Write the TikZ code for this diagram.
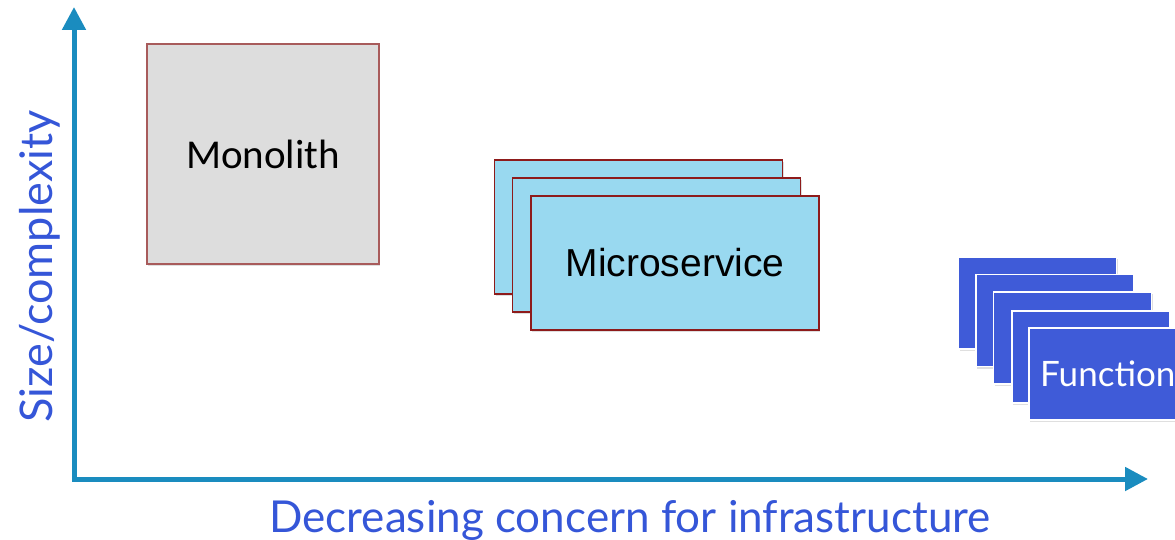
\documentclass[tikz,border=0pt]{standalone}
\usepackage{fontspec}
\setmainfont{Liberation Sans}
\newfontfamily\calfont{Carlito}
\newfontfamily\lightfont{Lato}
\usetikzlibrary{arrows.meta,shadows}
\definecolor{axisblue}{HTML}{1A8CBF}
\definecolor{labelblue}{HTML}{3556D8}
\definecolor{monofill}{HTML}{DDDDDD}
\definecolor{monoedge}{HTML}{A85B5B}
\definecolor{microfill}{HTML}{99D9F0}
\definecolor{microedge}{HTML}{8E1B1B}
\definecolor{funcfill}{HTML}{3F5BD8}
\tikzset{
  boxshadow/.style={drop shadow={opacity=0.25,shadow xshift=1pt,shadow yshift=-2pt}},
  monobox/.style={draw=monoedge,line width=1.3pt,fill=monofill,boxshadow,minimum width=232pt,minimum height=220pt,inner sep=0pt},
  microbox/.style={draw=microedge,line width=1.3pt,fill=microfill,boxshadow,minimum width=288pt,minimum height=134pt,inner sep=0pt},
  funcbox/.style={draw=white,line width=1.5pt,fill=funcfill,boxshadow,minimum width=158pt,minimum height=92pt,inner sep=0pt},
  axis/.style={draw=axisblue,line width=5pt,-{Triangle[width=23pt,length=23pt]}},
  axislabel/.style={text=labelblue,inner sep=0pt}
}
\begin{document}
\begin{tikzpicture}[x=1pt,y=-1pt]
\useasboundingbox (0,0) rectangle (1175,540);
% axes
\coordinate (origin) at (74,479);
\coordinate (ytip) at (74,7);
\coordinate (xtip) at (1148,479);
\draw[axis] (origin) -- (ytip);
\draw[axis] (origin) -- (xtip);
\draw[draw=axisblue,line width=5pt] (74,481.5) -- (74,479);
% labels
\node[axislabel,anchor=base,font=\lightfont\fontsize{44}{50}\selectfont] (xlab) at (630,532) {Decreasing concern for infrastructure};
\node[axislabel,anchor=base,rotate=90,font=\lightfont\fontsize{45}{52}\selectfont] (ylab) at (52,266.5) {Size/complexity};
% monolith
\node[monobox] (mono) at (263,154) {};
\node[font=\calfont\fontsize{41}{48}\selectfont,inner sep=0pt] (monotext) at (263,154) {Monolith};
% microservices
\node[microbox] (m1) at (638.5,227) {};
\node[microbox] (m2) at (656.5,245) {};
\node[microbox] (m3) at (675,263) {};
\node[font=\fontsize{39}{46}\selectfont,inner sep=0pt] (mtext) at (675,263) {Microservice};
% functions
\node[funcbox] (f1) at (1037.5,303) {};
\node[funcbox] (f2) at (1055,320.5) {};
\node[funcbox] (f3) at (1072.5,338) {};
\node[funcbox] (f4) at (1091,357) {};
\node[funcbox] (f5) at (1108,374) {};
\node[font=\lightfont\fontsize{35}{40}\selectfont,text=white,inner sep=0pt,anchor=base west] (ftext) at (1040,386) {Function};
\end{tikzpicture}
\end{document}
